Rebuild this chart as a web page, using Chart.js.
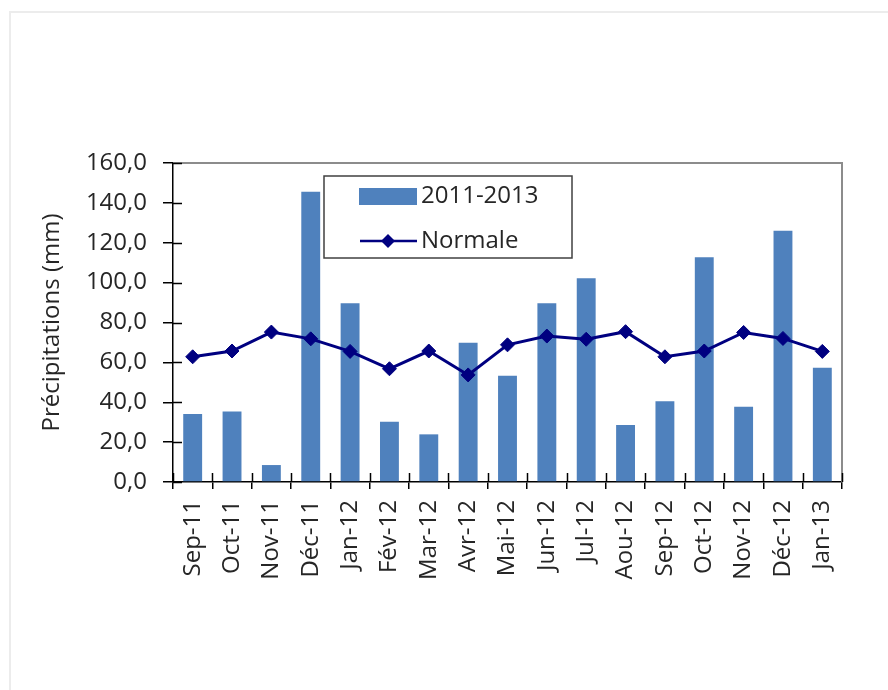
<!DOCTYPE html>
<html>
<head>
<meta charset="utf-8">
<title>Précipitations</title>
<script src="https://cdn.jsdelivr.net/npm/chart.js@4.4.1/dist/chart.umd.min.js"></script>
<style>
    html, body { margin: 0; padding: 0; background: #fff; overflow: hidden; }
    #frame {
        position: absolute; left: 9px; top: 11px; width: 900px; height: 700px;
        border-left: 2px solid #ececec; border-top: 2px solid #ececec;
    }
    #chart { position: absolute; left: 0; top: 0; }
</style>
</head>
<body>
<div id="frame"></div>
<canvas id="chart" width="888" height="690"></canvas>
<script>
// Monthly rainfall, Sep 2011 to Jan 2013, against the long-term normal
var months = ['Sep-11', 'Oct-11', 'Nov-11', 'Déc-11', 'Jan-12', 'Fév-12', 'Mar-12', 'Avr-12', 'Mai-12',
    'Jun-12', 'Jul-12', 'Aou-12', 'Sep-12', 'Oct-12', 'Nov-12', 'Déc-12', 'Jan-13'];
var rainfall = [34.1, 35.3, 8.5, 145.6, 89.6, 30.2, 23.9, 69.9, 53.3, 89.6, 102.2, 28.6, 40.5, 112.7, 37.8, 126.0, 57.3];
var normals = [62.8, 65.7, 75.2, 71.8, 65.5, 56.8, 65.7, 53.7, 68.8, 73.2, 71.6, 75.4, 62.8, 65.7, 75.0, 72.0, 65.5];
var seriesNames = ['2011-2013', 'Normale'];
var yMax = 160;
var yStep = 20;

var FONT = '"Open Sans", "DejaVu Sans", sans-serif';
var TEXT = '#262626';
var BAR = '#4f81bd';
var LINE = '#000080';

// inner half of the crossing tick marks, plus the grey top/right frame
var frameTicks = {
    id: 'frameTicks',
    afterDatasetsDraw: function (chart) {
        var ctx = chart.ctx;
        var area = chart.chartArea;
        var x = chart.scales.x;
        var y = chart.scales.y;
        ctx.save();
        ctx.strokeStyle = '#8c8c8c';
        ctx.lineWidth = 2;
        ctx.beginPath();
        ctx.moveTo(area.left, area.top);
        ctx.lineTo(area.right, area.top);
        ctx.lineTo(area.right, area.bottom);
        ctx.stroke();

        ctx.strokeStyle = '#000';
        ctx.lineWidth = 1.5;
        ctx.beginPath();
        y.ticks.forEach(function (t, i) {
            var py = Math.round(y.getPixelForTick(i)) + 0.5;
            ctx.moveTo(area.left, py);
            ctx.lineTo(area.left + 9, py);
        });
        var step = (x.right - x.left) / months.length;
        for (var i = 0; i <= months.length; i++) {
            var px = Math.round(x.left + i * step) + 0.5;
            ctx.moveTo(px, area.bottom);
            ctx.lineTo(px, area.bottom - 9);
        }
        ctx.stroke();
        ctx.restore();
    }
};

// boxed legend sitting inside the plot
var boxLegend = {
    id: 'boxLegend',
    afterDraw: function (chart) {
        var ctx = chart.ctx;
        var sets = chart.data.datasets;
        var bar = sets.find(function (d) { return d.label === seriesNames[0]; });
        var line = sets.find(function (d) { return d.label === seriesNames[1]; });
        ctx.save();
        ctx.fillStyle = '#fff';
        ctx.fillRect(324, 176, 248, 82);
        ctx.strokeStyle = '#404040';
        ctx.lineWidth = 1.5;
        ctx.strokeRect(324, 176, 248, 82);

        ctx.fillStyle = bar.backgroundColor;
        ctx.fillRect(359, 188, 58, 17);

        ctx.strokeStyle = line.borderColor;
        ctx.lineWidth = 2.5;
        ctx.beginPath();
        ctx.moveTo(360, 241);
        ctx.lineTo(417, 241);
        ctx.stroke();
        ctx.fillStyle = line.pointBackgroundColor;
        ctx.beginPath();
        ctx.moveTo(388, 234);
        ctx.lineTo(395, 241);
        ctx.lineTo(388, 248);
        ctx.lineTo(381, 241);
        ctx.closePath();
        ctx.fill();

        ctx.fillStyle = TEXT;
        ctx.font = '24px ' + FONT;
        ctx.textBaseline = 'middle';
        ctx.fillText(bar.label, 421, 196);
        ctx.fillText(line.label, 421, 241);
        ctx.restore();
    }
};

function draw() {
    var ctx = document.getElementById('chart').getContext('2d');
    new Chart(ctx, {
        type: 'bar',
        data: {
            labels: months,
            datasets: [{
                type: 'line',
                label: seriesNames[1],
                data: normals,
                borderColor: LINE,
                borderWidth: 3,
                pointStyle: 'rectRot',
                pointRadius: 7,
                pointBackgroundColor: LINE,
                pointBorderColor: LINE,
                pointBorderWidth: 1,
                tension: 0,
                order: 0
            }, {
                label: seriesNames[0],
                data: rainfall,
                backgroundColor: BAR,
                categoryPercentage: 1,
                barPercentage: 0.48,
                order: 1
            }]
        },
        options: {
            responsive: false,
            animation: false,
            layout: {
                padding: { left: 0, top: 163, right: 46, bottom: 0 }
            },
            plugins: {
                legend: { display: false },
                tooltip: { enabled: false }
            },
            scales: {
                x: {
                    offset: true,
                    grid: {
                        offset: true,
                        drawOnChartArea: false,
                        tickLength: 7,
                        color: '#000',
                        lineWidth: 1.5
                    },
                    border: { color: '#000', width: 1.5 },
                    ticks: {
                        autoSkip: false,
                        minRotation: 90,
                        maxRotation: 90,
                        padding: 11,
                        color: TEXT,
                        font: { family: FONT, size: 24 }
                    },
                    afterFit: function (scale) {
                        scale.height = 690 - 482;
                    }
                },
                y: {
                    min: 0,
                    max: yMax,
                    grid: {
                        drawOnChartArea: false,
                        tickLength: 10,
                        color: '#000',
                        lineWidth: 1.5
                    },
                    border: { color: '#000', width: 1.5 },
                    ticks: {
                        stepSize: yStep,
                        padding: 16,
                        color: TEXT,
                        font: { family: FONT, size: 24 },
                        callback: function (value) {
                            return value.toFixed(1).replace('.', ',');
                        }
                    },
                    title: {
                        display: true,
                        text: 'Précipitations (mm)',
                        color: TEXT,
                        font: { family: FONT, size: 24 },
                        padding: { top: 38, bottom: 0 }
                    },
                    afterFit: function (scale) {
                        scale.width = 173;
                    }
                }
            }
        },
        plugins: [frameTicks, boxLegend]
    });
}

document.fonts.load('24px "Open Sans"').then(draw, draw);
</script>
</body>
</html>
